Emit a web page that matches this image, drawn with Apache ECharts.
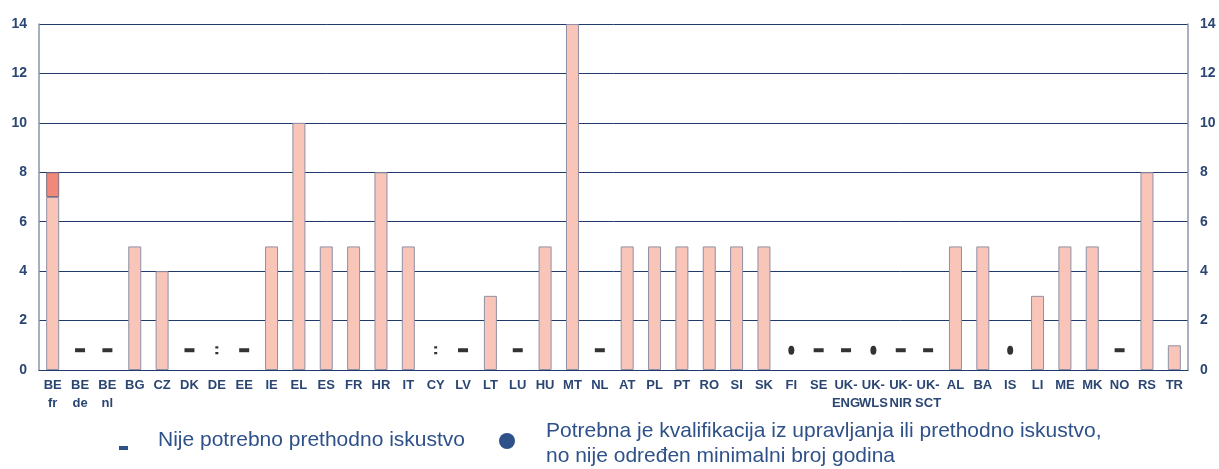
<!DOCTYPE html>
<html lang="hr">
<head>
    <meta charset="UTF-8">
    <title>Prethodno iskustvo</title>
    <script type="text/javascript" src="https://cdn.jsdelivr.net/npm/echarts@6/dist/echarts.min.js"></script>
    <style type="text/css">
        html, body {
            margin: 0;
            padding: 0;
            height: 100%;
            width: 100%;
            background: #fff;
        }
        #echarts {
            height: 469px;
            width: 1219px;
        }
    </style>
</head>
<body>

<div id="echarts"></div>

<script type="text/javascript">
    var categories = ['BE\nfr', 'BE\nde', 'BE\nnl', 'BG', 'CZ', 'DK', 'DE', 'EE', 'IE', 'EL', 'ES', 'FR', 'HR', 'IT',
        'CY', 'LV', 'LT', 'LU', 'HU', 'MT', 'NL', 'AT', 'PL', 'PT', 'RO', 'SI', 'SK', 'FI', 'SE',
        'UK-\nENG', 'UK-\nWLS', 'UK-\nNIR', 'UK-\nSCT', 'AL', 'BA', 'IS', 'LI', 'ME', 'MK', 'NO', 'RS', 'TR'];

    // minimum years of experience (lower part) and the extra range for BE fr
    var yearsMin = [7, null, null, 5, 4, null, null, null, 5, 10, 5, 5, 8, 5,
        null, null, 3, null, 5, 14, null, 5, 5, 5, 5, 5, 5, null, null,
        null, null, null, null, 5, 5, null, 3, 5, 5, null, 8, 1];
    var yearsExtra = [1, null, null, null, null, null, null, null, null, null, null, null, null, null,
        null, null, null, null, null, null, null, null, null, null, null, null, null, null, null,
        null, null, null, null, null, null, null, null, null, null, null, null, null];

    // countries shown with a marker instead of a bar
    var noExperience = ['BE\nde', 'BE\nnl', 'DK', 'EE', 'LV', 'LU', 'NL', 'SE', 'UK-\nENG', 'UK-\nNIR', 'UK-\nSCT', 'NO'];
    var qualification = ['FI', 'UK-\nWLS', 'IS'];
    var notAvailable = ['DE', 'CY'];
    var markerLevel = 0.8;

    var yTicks = [0, 2, 4, 6, 8, 10, 12, 14];

    var navy = '#1f3a6b';
    var labelColor = '#2b4673';
    var legendColor = '#2e5189';

    function markerData(list) {
        return list.map(function (c) { return [c, markerLevel]; });
    }

    var myChart = echarts.init(document.getElementById('echarts'));

    var yAxisBase = {
        type: 'value',
        min: yTicks[0],
        max: yTicks[yTicks.length - 1],
        interval: 2,
        axisLine: { show: true, lineStyle: { color: '#8b93ad', width: 1.5 } },
        axisTick: { show: false },
        axisLabel: {
            color: labelColor,
            fontFamily: 'Liberation Sans Narrow, Liberation Sans, Arial',
            fontWeight: 'bold',
            fontSize: 14,
            margin: 12
        }
    };

    var option = {
        animation: false,
        grid: { left: 39, right: 31, top: 24, bottom: 99 },
        xAxis: {
            type: 'category',
            data: categories,
            axisLine: { lineStyle: { color: navy, width: 1 } },
            axisTick: { show: false },
            axisLabel: {
                interval: 0,
                color: labelColor,
                fontFamily: 'Liberation Sans Narrow, Liberation Sans, Arial',
                fontWeight: 'bold',
                fontSize: 13,
                lineHeight: 18,
                margin: 6
            }
        },
        yAxis: [
            Object.assign({}, yAxisBase, {
                position: 'left',
                splitLine: { show: true, lineStyle: { color: navy, width: 1 } }
            }),
            Object.assign({}, yAxisBase, {
                position: 'right',
                splitLine: { show: false }
            })
        ],
        series: [
            {
                type: 'bar',
                stack: 'years',
                data: yearsMin,
                barWidth: 13,
                itemStyle: { color: '#f8c5b8', borderColor: '#8f90a6', borderWidth: 1 }
            },
            {
                type: 'bar',
                stack: 'years',
                data: yearsExtra,
                barWidth: 13,
                itemStyle: { color: '#f0897a', borderColor: '#7d6f80', borderWidth: 1 }
            },
            {
                type: 'scatter',
                data: markerData(noExperience),
                symbol: 'rect',
                symbolSize: [10, 4],
                itemStyle: { color: '#000' }
            },
            {
                type: 'scatter',
                data: markerData(qualification),
                symbol: 'path://M0,4 A2.5,4 0 1 1 5,4 A2.5,4 0 1 1 0,4 Z',
                symbolSize: [6, 9],
                itemStyle: { color: '#000' }
            },
            {
                type: 'scatter',
                data: markerData(notAvailable),
                symbol: 'path://M0,0 h2 v2 h-2 Z M0,5 h2 v2 h-2 Z',
                symbolSize: [3, 8],
                itemStyle: { color: '#000' }
            }
        ],
        graphic: [
            { type: 'rect', left: 119, top: 446, shape: { width: 9, height: 4 }, style: { fill: legendColor } },
            {
                type: 'text', left: 158, top: 430,
                style: { text: 'Nije potrebno prethodno iskustvo', fill: legendColor, font: '21px Liberation Sans, Arial' }
            },
            { type: 'circle', left: 499, top: 433, shape: { r: 8 }, style: { fill: legendColor } },
            {
                type: 'text', left: 546, top: 419,
                style: {
                    text: 'Potrebna je kvalifikacija iz upravljanja ili prethodno iskustvo,\nno nije određen minimalni broj godina',
                    fill: legendColor, font: '21px Liberation Sans, Arial', lineHeight: 25
                }
            }
        ]
    };

    myChart.setOption(option);
</script>

</body>
</html>
